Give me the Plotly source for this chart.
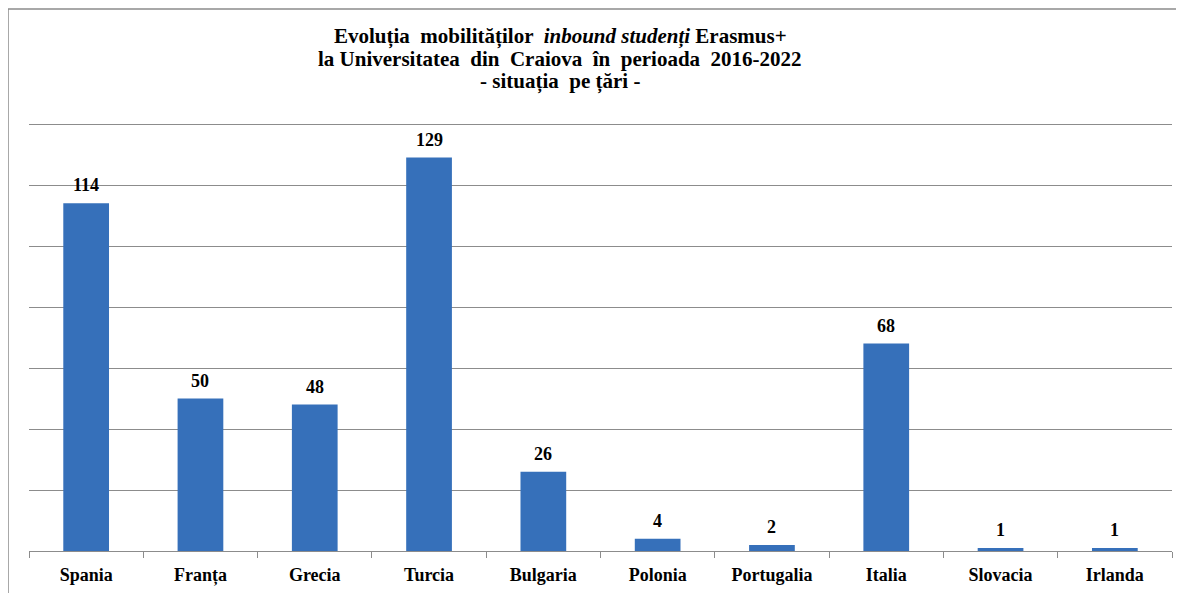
import plotly.graph_objects as go

countries = ["Spania", "Franța", "Grecia", "Turcia", "Bulgaria", "Polonia",
             "Portugalia", "Italia", "Slovacia", "Irlanda"]
students = [114, 50, 48, 129, 26, 4, 2, 68, 1, 1]

title_lines = [
    "Evoluția  mobilităților  <i>inbound studenți</i> Erasmus+",
    "la Universitatea  din  Craiova  în  perioada  2016-2022",
    "- situația  pe țări -",
]

serif = "Times New Roman, DejaVu Serif"

W, H = 1184, 593
L, R, T, B = 21, 20, 113, 50
pw, ph = W - L - R, H - T - B

fig = go.Figure()
fig.add_trace(go.Bar(
    x=countries, y=students,
    marker=dict(color="#3670ba", line=dict(width=0)),
))

# value labels above the bars
for c, v in zip(countries, students):
    fig.add_annotation(x=c, y=v, text=f"<b>{v}</b>", showarrow=False,
                       yanchor="bottom", yshift=6,
                       font=dict(family=serif, size=18, color="black"))

# title, one line per annotation so the line spacing stays tight
for line, ypix in zip(title_lines, [29, 51, 73]):
    fig.add_annotation(text=f"<b>{line}</b>", showarrow=False,
                       xref="paper", yref="paper",
                       x=(552 - L) / pw, y=1 + (T - ypix) / ph,
                       xanchor="center", yanchor="middle",
                       font=dict(family=serif, size=21, color="black"))

fig.update_layout(
    width=W, height=H,
    margin=dict(l=L, r=R, t=T, b=B),
    paper_bgcolor="white", plot_bgcolor="white",
    bargap=0.6,
    showlegend=False,
    font=dict(family=serif, color="black"),
)

fig.update_xaxes(
    showline=True, linecolor="#8c8c8c", linewidth=1,
    ticks="outside", tickson="boundaries", ticklen=6, tickcolor="#8c8c8c",
    ticklabelstandoff=7,
    tickfont=dict(family=serif, size=18, color="black"),
    tickprefix="<b>", ticksuffix="</b>",
)
fig.update_yaxes(
    range=[0, 141], tickvals=[20, 40, 60, 80, 100, 120, 140], showticklabels=False,
    showgrid=True, gridcolor="#8c8c8c", gridwidth=1, zeroline=False,
)

# chart frame around the whole figure
fig.add_shape(type="rect", xref="paper", yref="paper",
              x0=-L / pw, x1=(W - L - 1) / pw, y0=-B / ph, y1=1 + (T - 1) / ph,
              line=dict(color="#8c8c8c", width=1.5))

fig.write_html("out.html")
